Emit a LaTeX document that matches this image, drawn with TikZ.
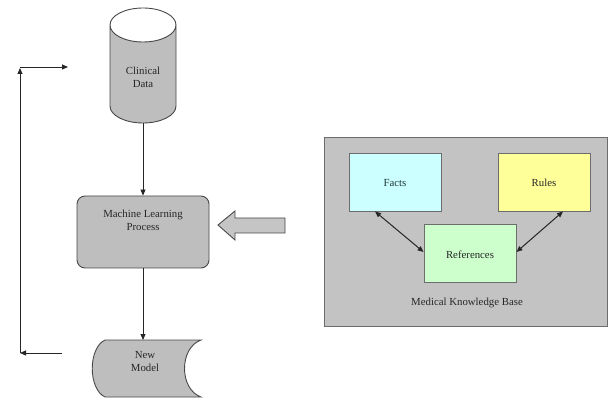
\documentclass[tikz,border=0pt]{standalone}
\usepackage{fontspec}
\setmainfont{Liberation Serif}
\usetikzlibrary{arrows.meta}
\definecolor{shapegray}{HTML}{BEBEBE}
\definecolor{edgegray}{HTML}{484848}
\definecolor{kbgray}{HTML}{C3C3C3}
\definecolor{factscol}{HTML}{CCFFFF}
\definecolor{rulescol}{HTML}{FFFF99}
\definecolor{refcol}{HTML}{CCFFCC}
\definecolor{txtcol}{HTML}{262626}
\tikzset{
  lbl/.style={font=\fontsize{10.8}{13}\selectfont, text=txtcol, align=center, inner sep=0pt},
  flowline/.style={draw=black!85, line width=0.8pt, -{Triangle[length=6pt,width=5pt]}},
  kbline/.style={draw=black!85, line width=1pt, {Triangle[length=6pt,width=5pt]}-{Triangle[length=6pt,width=5pt]}},
  ghost/.style={inner sep=0pt, outer sep=0pt},
  kbitem/.style={draw=edgegray!80, line width=0.9pt, minimum width=92pt, minimum height=58pt, inner sep=0pt}
}
\begin{document}
\begin{tikzpicture}[x=1pt,y=-1pt]
\useasboundingbox (0,0) rectangle (608,398);
% Clinical data cylinder
\draw[fill=shapegray, draw=edgegray, line width=0.9pt]
  (110,25) -- (110,106) arc (180:0:33 and 17) -- (176,25) arc (0:180:33 and 17) -- cycle;
\draw[draw=edgegray, line width=0.9pt] (110,25) arc (180:360:33 and 17);
\node[ghost, minimum width=66pt, minimum height=115pt] (clin) at (143,65.5) {};
\node[lbl] (clintext) at (143,77.5) {Clinical\\Data};
% Machine learning process
\node[draw=edgegray, line width=0.9pt, fill=shapegray, rounded corners=8pt,
      minimum width=132pt, minimum height=72pt, inner sep=0pt] (ml) at (143,232) {};
\node[lbl] (mltext) at (143,220.5) {Machine Learning\\Process};
% New model (stored data)
\draw[fill=shapegray, draw=edgegray, line width=0.9pt]
  (105,340) -- (201,340) .. controls (179,348) and (179,389) .. (201,397)
  -- (105,397) .. controls (88,389) and (88,348) .. (105,340) -- cycle;
\node[ghost, minimum width=109pt, minimum height=57pt] (nm) at (147.5,368.5) {};
\node[lbl] (nmtext) at (145,362) {New\\Model};
% flow arrows
\draw[flowline] (clin.south) -- (clin.south |- ml.north);
\draw[flowline] (ml.south) -- (ml.south |- nm.north);
% feedback loop
\coordinate (fbA) at (62,353);
\coordinate (fbB) at (20,353);
\coordinate (fbC) at (20,68);
\coordinate (fbD) at (20,67);
\coordinate (fbE) at (68,67);
\draw[flowline] (fbA) -- (fbB);
\draw[flowline] (fbB) -- (fbC);
\draw[flowline] (fbD) -- (fbE);
% Knowledge base
\node[draw=gray!85!black, line width=0.9pt, fill=kbgray, minimum width=283pt, minimum height=189pt, inner sep=0pt] (kb) at (465.5,231.5) {};
\node[kbitem, fill=factscol] (facts) at (395,182) {};
\node[lbl, text=txtcol!80!teal] (factstext) at (395,183) {Facts};
\node[kbitem, fill=rulescol] (rules) at (544,182) {};
\node[lbl] (rulestext) at (544,183) {Rules};
\node[kbitem, fill=refcol] (refs) at (470,253.5) {};
\node[lbl] (refstext) at (470,255) {References};
\node[lbl] (kbtext) at (467,303) {Medical Knowledge Base};
\draw[kbline] ([xshift=-20pt]facts.south) -- ([yshift=1.5pt]refs.west);
\draw[kbline] ([xshift=19pt]rules.south) -- ([yshift=1.5pt]refs.east);
% Hollow block arrow from KB to ML
\draw[fill=shapegray!90!white, draw=edgegray, line width=0.9pt]
  (218,225) -- (235,211) -- (235,218) -- (285,218) -- (285,233) -- (235,233) -- (235,240) -- cycle;
\end{tikzpicture}
\end{document}
